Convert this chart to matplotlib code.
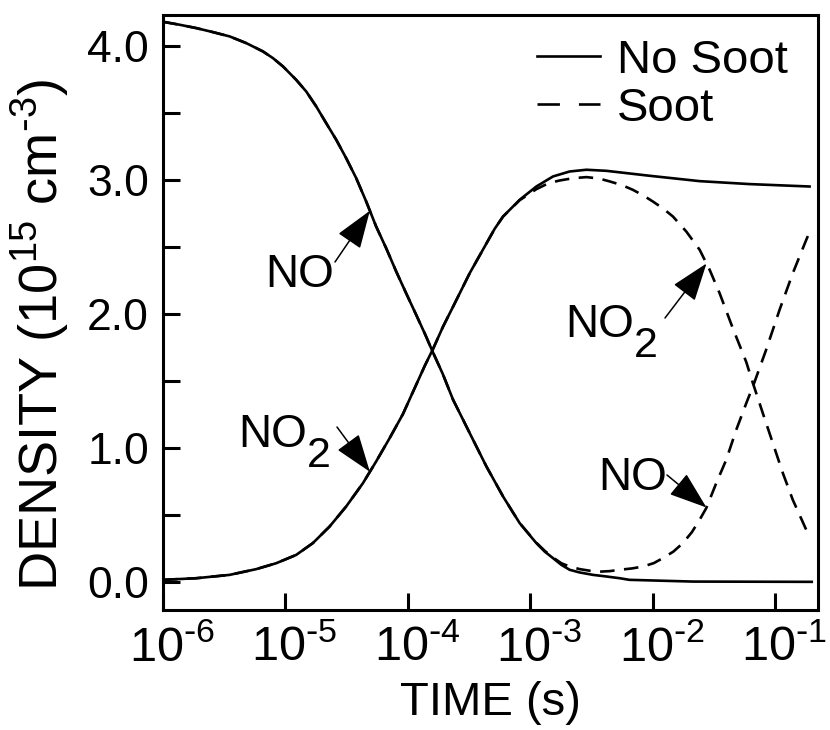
import numpy as np
import matplotlib
matplotlib.use("Agg")
import matplotlib.pyplot as plt
from matplotlib.lines import Line2D
from matplotlib.ticker import FixedLocator, NullLocator
from matplotlib.transforms import ScaledTranslation

plt.rcParams["font.family"] = ["Liberation Sans", "DejaVu Sans"]
plt.rcParams["mathtext.default"] = "regular"

# log10 of time (s) and densities (1e15 cm^-3)
logt_no_nosoot = [-6.000, -5.864, -5.728, -5.592, -5.456, -5.320, -5.184, -5.102,
                  -5.020, -4.912, -4.830, -4.748, -4.667, -4.585, -4.504, -4.422,
                  -4.340, -4.259, -4.177, -4.095, -4.014, -3.932, -3.860, -3.796,
                  -3.714, -3.630, -3.562, -3.494, -3.426, -3.358, -3.290, -3.222,
                  -3.154, -3.086, -3.018, -2.950, -2.882, -2.814, -2.746, -2.678,
                  -2.596, -2.487, -2.378, -2.269, -2.190, -1.670, -0.700]
no_nosoot = [4.179, 4.157, 4.132, 4.102, 4.070, 4.020, 3.958, 3.908,
             3.846, 3.746, 3.659, 3.547, 3.423, 3.299, 3.162, 3.013,
             2.838, 2.652, 2.490, 2.316, 2.154, 1.993, 1.850, 1.715,
             1.550, 1.358, 1.234, 1.109, 0.985, 0.861, 0.749, 0.637,
             0.537, 0.438, 0.363, 0.289, 0.226, 0.177, 0.127, 0.090,
             0.070, 0.052, 0.040, 0.027, 0.015, 0.002, 0.000]

logt_no2_nosoot = [-6.000, -5.728, -5.456, -5.238, -5.075, -4.912, -4.776, -4.639,
                   -4.504, -4.367, -4.259, -4.150, -4.041, -3.932, -3.860, -3.793,
                   -3.712, -3.630, -3.494, -3.358, -3.290, -3.222, -3.086, -2.950,
                   -2.814, -2.678, -2.541, -2.378, -2.024, -1.616, -1.208, -0.718]
no2_nosoot = [0.015, 0.027, 0.052, 0.095, 0.139, 0.201, 0.289, 0.413,
              0.562, 0.736, 0.898, 1.070, 1.250, 1.470, 1.615, 1.740,
              1.905, 2.054, 2.304, 2.525, 2.635, 2.726, 2.851, 2.950,
              3.025, 3.062, 3.075, 3.067, 3.030, 2.990, 2.968, 2.950]

logt_no_soot = [-6.000, -5.864, -5.728, -5.592, -5.456, -5.320, -5.184, -5.102,
                -5.020, -4.912, -4.830, -4.748, -4.667, -4.585, -4.504, -4.422,
                -4.340, -4.259, -4.177, -4.095, -4.014, -3.932, -3.860, -3.796,
                -3.714, -3.630, -3.562, -3.494, -3.426, -3.358, -3.290, -3.222,
                -3.154, -3.086, -3.018, -2.950, -2.882, -2.814, -2.746, -2.678,
                -2.596, -2.487, -2.433, -2.350, -2.269, -2.170, -2.079, -1.990,
                -1.916, -1.830, -1.753, -1.680, -1.616, -1.562, -1.480, -1.399,
                -1.317, -1.235, -1.176, -1.073, -0.963, -0.855, -0.745, -0.718]
no_soot = [4.179, 4.157, 4.132, 4.102, 4.070, 4.020, 3.958, 3.908,
           3.846, 3.746, 3.659, 3.547, 3.423, 3.299, 3.162, 3.013,
           2.838, 2.652, 2.490, 2.316, 2.154, 1.993, 1.850, 1.715,
           1.550, 1.358, 1.234, 1.109, 0.985, 0.861, 0.749, 0.637,
           0.537, 0.438, 0.365, 0.292, 0.232, 0.182, 0.139, 0.114,
           0.095, 0.079, 0.076, 0.080, 0.090, 0.100, 0.114, 0.140,
           0.177, 0.226, 0.289, 0.370, 0.463, 0.550, 0.737, 0.910,
           1.134, 1.333, 1.470, 1.731, 2.030, 2.303, 2.552, 2.610]

logt_no2_soot = [-6.000, -5.728, -5.456, -5.238, -5.075, -4.912, -4.776, -4.639,
                 -4.504, -4.367, -4.259, -4.150, -4.041, -3.932, -3.860, -3.793,
                 -3.712, -3.630, -3.494, -3.358, -3.290, -3.222, -3.086, -2.950,
                 -2.850, -2.759, -2.650, -2.541, -2.440, -2.351, -2.250, -2.161,
                 -2.080, -1.998, -1.915, -1.834, -1.725, -1.616, -1.534, -1.453,
                 -1.344, -1.235, -1.181, -1.100, -1.018, -0.936, -0.855, -0.745,
                 -0.718]
no2_soot = [0.015, 0.027, 0.052, 0.095, 0.139, 0.201, 0.289, 0.413,
            0.562, 0.736, 0.898, 1.070, 1.250, 1.470, 1.615, 1.740,
            1.905, 2.054, 2.304, 2.525, 2.635, 2.726, 2.848, 2.930,
            2.975, 2.995, 3.012, 3.020, 3.010, 2.988, 2.960, 2.925,
            2.885, 2.838, 2.786, 2.726, 2.614, 2.478, 2.328, 2.154,
            1.890, 1.640, 1.483, 1.259, 1.035, 0.811, 0.612, 0.388,
            0.350]

xtick_exponents = [-6, -5, -4, -3, -2, -1]
ytick_major = [0.0, 1.0, 2.0, 3.0, 4.0]
ytick_minor = [0.5, 1.5, 2.5, 3.5]

legend_labels = ["No Soot", "Soot"]


def t(lg):
    return 10.0 ** np.asarray(lg)


fig = plt.figure(figsize=(8.3, 7.3), dpi=100)
ax = fig.add_axes([0.1964, 0.1644, 0.789, 0.8151])

lw = 1.9
dash = (5.5, 3.6)
ax.plot(t(logt_no_nosoot), no_nosoot, color="black", lw=lw)
ax.plot(t(logt_no2_nosoot), no2_nosoot, color="black", lw=lw)
ax.plot(t(logt_no_soot), no_soot, color="black", lw=lw, dashes=dash)
ax.plot(t(logt_no2_soot), no2_soot, color="black", lw=lw, dashes=dash)

ax.set_xscale("log")
ax.set_xlim(1e-6, 10 ** -0.65)
ax.set_ylim(-0.21, 4.23)

ax.xaxis.set_major_locator(FixedLocator([10.0 ** e for e in xtick_exponents]))
ax.xaxis.set_minor_locator(NullLocator())
ax.set_xticklabels([r"$10^{\text{-}%d}$" % abs(e) for e in xtick_exponents])
ax.yaxis.set_major_locator(FixedLocator(ytick_major))
ax.yaxis.set_minor_locator(FixedLocator(ytick_minor))
ax.set_yticklabels(["%.1f" % v for v in ytick_major])

for s in ax.spines.values():
    s.set_linewidth(2.2)
ax.tick_params(which="both", direction="in", length=12, width=2.2,
               top=False, right=False)
ax.tick_params(axis="x", labelsize=35, pad=11)
ax.tick_params(axis="y", labelsize=32, pad=10)

# nudge the decade labels so the "10" sits over its tick
shift = ScaledTranslation(6.5 / 72, 0, fig.dpi_scale_trans)
for lab in ax.get_xticklabels():
    lab.set_transform(lab.get_transform() + shift)

ax.set_xlabel("TIME (s)", fontsize=34, labelpad=7)
ax.set_ylabel(r"DENSITY (10$^{15}$ cm$^{\text{-}3}$)", fontsize=39)
ax.yaxis.set_label_coords(-0.141, 0.462)

# legend
handles = [Line2D([], [], color="black", lw=lw),
           Line2D([], [], color="black", lw=lw, dashes=(8.5, 7.2))]
ax.legend(handles, legend_labels, loc="upper left", bbox_to_anchor=(0.571, 0.960),
          frameon=False, fontsize=34, handlelength=1.34, handletextpad=0.36,
          labelspacing=0.08, borderpad=0, borderaxespad=0)

# species labels with arrows pointing at the curves
arrow_kw = dict(arrowstyle="-|>,head_length=2.4,head_width=0.85", color="black",
                lw=1.1, mutation_scale=10, shrinkA=0, shrinkB=0)


def on_curve(lg, logt, vals):
    return 10.0 ** lg, float(np.interp(lg, logt, vals))


def pix_to_data(px, py):
    inv = ax.transData.inverted()
    return inv.transform((px, 730 - py))


fig.canvas.draw()


def label(text, sub, pos_px, tail_px, tip):
    x, y = pix_to_data(*pos_px)
    tx = ax.text(x, y, text, fontsize=33, ha="left", va="baseline")
    if sub:
        ax.annotate(sub, xy=(1, 0), xycoords=tx, xytext=(0, -7),
                    textcoords="offset points", fontsize=31, ha="left", va="baseline")
    tail = pix_to_data(*tail_px)
    ax.annotate("", xy=tip, xytext=tail, arrowprops=arrow_kw)


label("NO", None, (265, 287), (335, 262), on_curve(-4.31, logt_no_nosoot, no_nosoot))
label("NO", "2", (238, 447), (337, 427), on_curve(-4.31, logt_no2_nosoot, no2_nosoot))
label("NO", "2", (565, 337), (665, 318), on_curve(-1.56, logt_no2_soot, no2_soot))
label("NO", None, (598, 490), (667, 475), on_curve(-1.56, logt_no_soot, no_soot))

fig.savefig("out.png", dpi=100)
